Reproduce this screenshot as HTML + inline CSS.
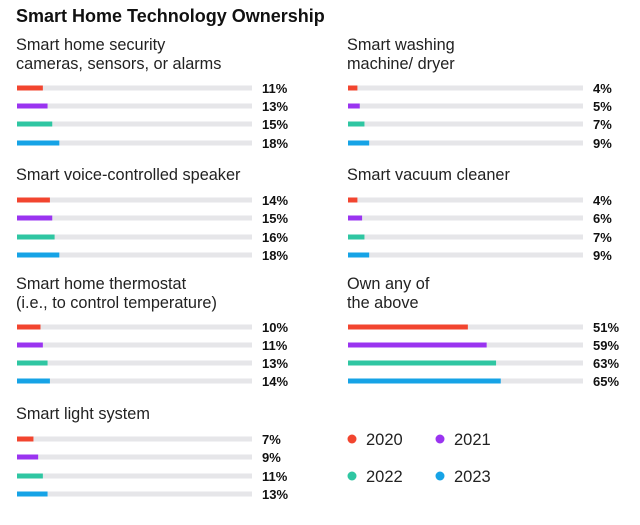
<!DOCTYPE html>
<html><head><meta charset="utf-8"><style>
body{margin:0;background:#fff;width:640px;height:520px;overflow:hidden}
svg{font-family:"Liberation Sans",sans-serif}
</style></head><body>
<svg id="c" width="640" height="520">
<text x="16" y="22" font-size="18" font-weight="bold" fill="#111">Smart Home Technology Ownership</text>
</svg>
<script>
const categories=[["Smart home security","cameras, sensors, or alarms"],["Smart washing","machine/ dryer"],["Smart voice-controlled speaker"],["Smart vacuum cleaner"],["Smart home thermostat","(i.e., to control temperature)"],["Own any of","the above"],["Smart light system"]];
const years=["2020","2021","2022","2023"];
const v2020=[11,4,14,4,10,51,7];
const v2021=[13,5,15,6,11,59,9];
const v2022=[15,7,16,7,13,63,11];
const v2023=[18,9,18,9,14,65,13];
const colors=["#f2452f","#9a34f0","#2fc6a2","#16a3e6"];
const series=[v2020,v2021,v2022,v2023];
const svg=document.getElementById('c');
const NS="http://www.w3.org/2000/svg";
function mk(t,a){const e=document.createElementNS(NS,t);for(const k in a)e.setAttribute(k,a[k]);svg.appendChild(e);return e;}
const trackW=235;
function xs(v){return v/100*trackW;}
const gx=[17,348];
const titleY=[[45,64],[175],[284,303],[414]];
const barY=[[88,106,124,143],[200,218,237,255],[327,345,363,381],[439,457,476,494]];
categories.forEach((cat,i)=>{
  const row=Math.floor(i/2),col=i%2,x0=gx[col];
  const ty=row===1?[175]:titleY[row];
  cat.forEach((line,j)=>{
    const t=mk('text',{x:x0-1,y:ty[j]+5,'font-size':16.3,fill:'#222'});
    
    
    t.textContent=line;
  });
  series.forEach((s,k)=>{
    const y=barY[row][k];
    const tr=mk('rect',{x:x0,y:y-2.5,width:trackW,height:5,fill:'#e6e6e9'});
    
    
    const b=mk('rect',{x:x0,y:y-2.5,width:xs(s[i]),height:5,fill:colors[k]});
    
    
    const l=mk('text',{x:x0+245,y:y+5,'font-size':13,'font-weight':'bold',fill:'#111'});
    
    
    l.textContent=s[i]+'%';
  });
});
const lp=[[352,439],[440,439],[352,476],[440,476]];
years.forEach((y,k)=>{
  const c=mk('circle',{cx:lp[k][0],cy:lp[k][1],r:4.5,fill:colors[k]});
  
  
  const t=mk('text',{x:lp[k][0]+14,y:lp[k][1]+6,'font-size':16.5,fill:'#222'});
  
  
  t.textContent=y;
});
</script>
</body></html>
